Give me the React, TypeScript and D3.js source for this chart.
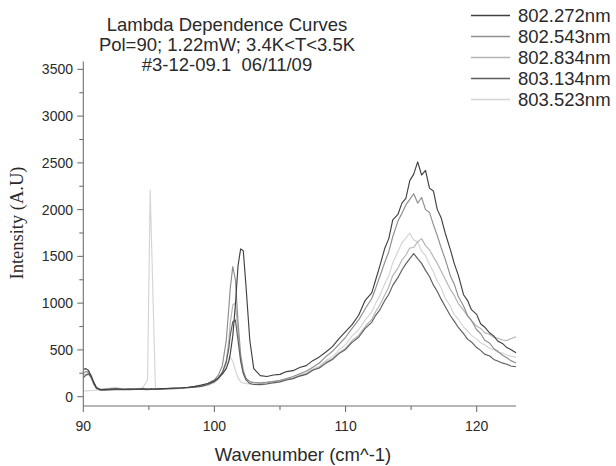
import React from "react";
import * as d3 from "d3";

const X: number[] = [
  90, 90.2, 90.4, 90.6, 90.8, 91.0, 91.3, 91.6, 92, 92.5, 93, 93.5, 94, 94.5, 94.9, 95.1, 95.2, 95.3, 95.5,
  96, 96.5, 97, 97.5, 98, 98.5, 99, 99.5, 100, 100.3, 100.6,
  100.9, 101.1, 101.2, 101.4, 101.6, 101.8, 102.0, 102.2, 102.4, 102.7, 103.0, 103.5,
  104, 104.5, 105, 105.5, 106, 106.5, 107, 107.5, 108, 108.5, 109, 109.5, 110, 110.5, 111, 111.5,
  112, 112.3, 112.6, 113, 113.3, 113.6, 114, 114.3, 114.6, 114.9, 115.2, 115.5, 115.8, 116.1, 116.4, 116.7,
  117, 117.3, 117.6, 118, 118.3, 118.6, 119, 119.3, 119.6, 120, 120.3, 120.6, 121, 121.3, 121.6, 122, 122.3, 122.6, 123,
];

const S802272: number[] = [
  290, 300, 280, 220, 150, 95, 75, 78, 80, 85, 78, 82, 80, 85, 82, 80, 84, 82, 80,
  86, 88, 92, 95, 100, 110, 125, 140, 170, 200, 240,
  300, 380, 450, 650, 980, 1400, 1580, 1560, 1200, 600, 300, 225,
  215, 232, 238, 268, 278, 312, 332, 385, 425, 478, 535, 620, 695, 770, 870, 1030,
  1110, 1250, 1390, 1590, 1690, 1890, 1950, 2070, 2120, 2310, 2380, 2510, 2370, 2420, 2230, 2200,
  2000, 1910, 1750, 1570, 1420, 1300, 1090, 1030, 930, 880, 780, 745, 680, 650, 595, 565, 525, 505, 470,
];

const S802543: number[] = [
  250, 270, 260, 200, 130, 85, 72, 75, 78, 80, 76, 80, 78, 80, 79, 78, 80, 78, 79,
  82, 85, 88, 92, 98, 108, 120, 140, 180, 230, 330,
  600, 950, 1150, 1390, 1250, 800, 450, 280, 200, 160, 150, 145,
  150, 162, 176, 194, 215, 244, 272, 315, 360, 428, 485, 560, 635, 730, 820, 940,
  1050, 1160, 1280, 1440, 1550, 1710, 1880, 1960, 2050, 2110, 2170, 2070, 2130, 2000, 1970, 1840,
  1720, 1590, 1470, 1290, 1200, 1070, 970, 870, 815, 715, 675, 605, 570, 515, 485, 440, 415, 385, 360,
];

const S802834: number[] = [
  230, 240, 250, 230, 160, 100, 78, 80, 90, 95, 85, 80, 85, 90, 85, 82, 85, 82, 84,
  86, 88, 90, 95, 100, 105, 115, 130, 160, 190, 250,
  380, 600, 780, 980, 1000, 700, 400, 250, 190, 160, 150, 150,
  155, 164, 168, 185, 198, 225, 243, 285, 318, 370, 405, 470, 515, 600, 655, 750,
  825, 910, 975, 1090, 1175, 1295, 1375, 1460, 1515, 1590, 1595, 1655, 1690, 1615, 1570, 1495,
  1425, 1340, 1255, 1145, 1080, 995, 925, 860, 815, 755, 730, 685, 665, 635, 625, 605, 600, 620, 640,
];

const S803134: number[] = [
  200, 230, 240, 210, 150, 95, 72, 70, 72, 75, 78, 74, 76, 78, 75, 78, 77, 79, 80,
  82, 84, 85, 90, 95, 100, 110, 130, 160, 200, 260,
  370, 520, 650, 800, 820, 600, 380, 250, 180, 140, 130, 128,
  135, 148, 158, 178, 193, 220, 238, 282, 306, 356, 396, 460, 505, 580, 635, 730,
  795, 870, 925, 1030, 1095, 1190, 1275, 1355, 1420, 1475, 1530, 1475, 1425, 1350, 1285, 1195,
  1125, 1040, 965, 865, 805, 740, 675, 615, 585, 525, 495, 455, 435, 398, 382, 358, 347, 328, 320,
];

const S803523: number[] = [
  60, 62, 65, 66, 68, 70, 72, 74, 75, 80, 78, 82, 80, 85, 180, 2210, 1680, 1150, 90,
  82, 84, 88, 92, 95, 100, 110, 120, 150, 180, 240,
  330, 400, 420, 380, 280, 200, 160, 145, 140, 135, 130, 130,
  140, 152, 163, 185, 198, 230, 252, 296, 326, 386, 426, 500, 556, 650, 715, 820,
  905, 1000, 1075, 1210, 1295, 1430, 1555, 1645, 1695, 1750, 1675, 1655, 1555, 1510, 1415, 1335,
  1235, 1160, 1055, 965, 875, 830, 745, 705, 655, 615, 575, 555, 515, 505, 475, 465, 445, 435, 420,
];

const SERIES_NAMES: string[] = ["802.272nm", "802.543nm", "802.834nm", "803.134nm", "803.523nm"];
const SERIES_VALUES: number[][] = [S802272, S802543, S802834, S803134, S803523];
const COLORS: string[] = ["#404040", "#8e8e8e", "#b4b4b4", "#5e5e5e", "#d4d4d4"];

const X_TICKS: number[] = [90, 100, 110, 120];
const X_MINOR: number[] = [95, 105, 115];
const Y_TICKS: number[] = [0, 500, 1000, 1500, 2000, 2500, 3000, 3500];
const Y_MINOR: number[] = [250, 750, 1250, 1750, 2250, 2750, 3250];

const TITLE: string[] = ["Lambda Dependence Curves", "Pol=90; 1.22mW; 3.4K<T<3.5K", "#3-12-09.1\u00a0\u00a006/11/09"];

export default function App() {
  const W = 616, H = 466;
  const x = d3.scaleLinear().domain([90, 123]).range([83.3, 516]);
  const y = d3.scaleLinear().domain([-100, 3600]).range([406, 60]);
  const axisColor = "#707070";
  const textColor = "#2a2a2a";
  const sans = "'Liberation Sans', Arial, sans-serif";

  const line = d3
    .line<number>()
    .x((_, i) => x(X[i]))
    .y((d) => y(d));

  const order = [4, 2, 1, 3, 0];

  return (
    <svg width={W} height={H} style={{ position: "absolute", left: 0, top: 0, background: "#fff" }}>
      <rect width={W} height={H} fill="#fff" />
      {TITLE.map((t, i) => (
        <text key={i} x={227} y={31 + i * 20} textAnchor="middle" fontFamily={sans} fontSize={18.5} fill={textColor}>
          {t}
        </text>
      ))}
      <g>
        {order.map((k) => (
          <path key={k} d={line(SERIES_VALUES[k]) || ""} fill="none" stroke={COLORS[k]} strokeWidth={1.15} strokeLinejoin="round" />
        ))}
      </g>
      <line x1={x(90)} x2={x(123)} y1={y(-100)} y2={y(-100)} stroke={axisColor} strokeWidth={1.1} />
      <line x1={x(90)} x2={x(90)} y1={y(-100)} y2={y(3600) + 1.5} stroke={axisColor} strokeWidth={1.1} />
      {X_TICKS.map((t) => (
        <g key={"xt" + t}>
          <line x1={x(t)} x2={x(t)} y1={y(-100)} y2={y(-100) + 6} stroke={axisColor} strokeWidth={1.1} />
          <text x={x(t)} y={431} textAnchor="middle" fontFamily={sans} fontSize={14} fill={textColor}>
            {t}
          </text>
        </g>
      ))}
      {X_MINOR.map((t) => (
        <line key={"xm" + t} x1={x(t)} x2={x(t)} y1={y(-100)} y2={y(-100) + 4} stroke={axisColor} strokeWidth={1.1} />
      ))}
      {Y_TICKS.map((t) => (
        <g key={"yt" + t}>
          <line x1={x(90) - 6} x2={x(90)} y1={y(t)} y2={y(t)} stroke={axisColor} strokeWidth={1.1} />
          <text x={73} y={y(t) + 5} textAnchor="end" fontFamily={sans} fontSize={14} fill={textColor}>
            {t}
          </text>
        </g>
      ))}
      {Y_MINOR.map((t) => (
        <line key={"ym" + t} x1={x(90) - 4} x2={x(90)} y1={y(t)} y2={y(t)} stroke={axisColor} strokeWidth={1.1} />
      ))}
      <text x={303} y={461} textAnchor="middle" fontFamily={sans} fontSize={18.5} fill={textColor}>
        Wavenumber (cm^-1)
      </text>
      <text
        transform={`translate(23, 223) rotate(-90)`}
        textAnchor="middle"
        fontFamily="'Liberation Serif', 'Times New Roman', serif"
        fontSize={18.5}
        fill={textColor}
      >
        Intensity (A.U)
      </text>
      {SERIES_NAMES.map((n, i) => (
        <g key={n}>
          <line x1={471} x2={510} y1={15.5 + i * 21} y2={15.5 + i * 21} stroke={COLORS[i]} strokeWidth={1.3} />
          <text x={518} y={22 + i * 21} fontFamily={sans} fontSize={18.5} fill={textColor}>
            {n}
          </text>
        </g>
      ))}
    </svg>
  );
}
